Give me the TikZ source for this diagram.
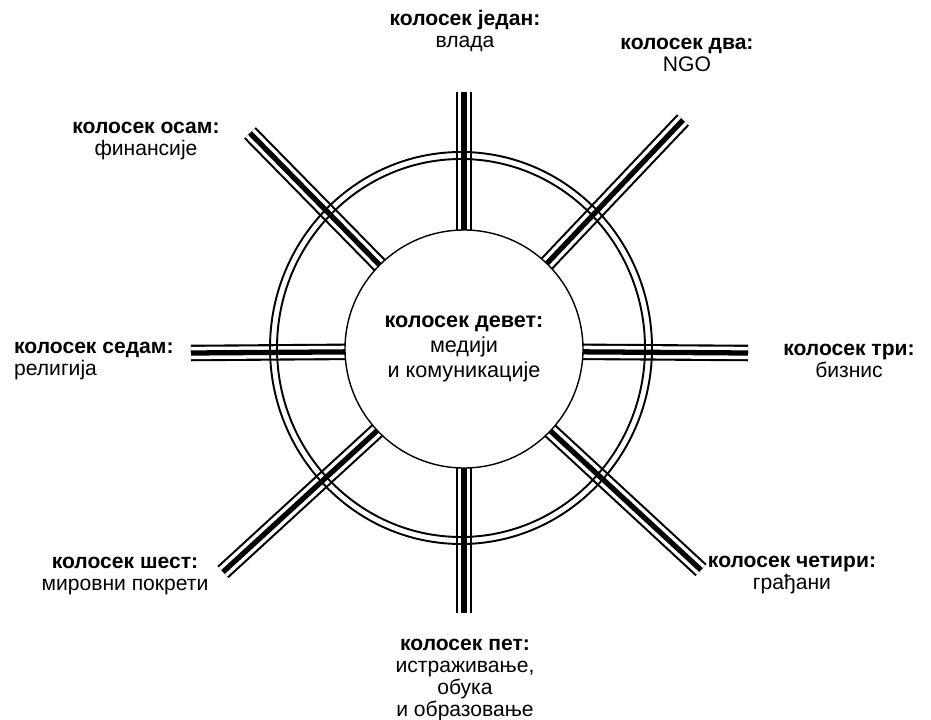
\documentclass[tikz,border=0pt]{standalone}
\usepackage{fontspec}
\setmainfont{Liberation Sans}
\begin{document}
\begin{tikzpicture}[x=0.02cm,y=-0.02cm,
  track/.style={double, double distance=7pt, line width=1.2pt},
  rail/.style={line width=3pt},
  ring/.style={line width=1.1pt},
  lbl/.style={align=center, font=\fontsize{12}{12.4}\selectfont}]
\useasboundingbox (0,0) rectangle (931,720);
\coordinate (c) at (464,351);
% spoke ends
\coordinate (e1) at (464,92);
\coordinate (e2) at (683,120);
\coordinate (e3) at (748,353);
\coordinate (e4) at (701,570);
\coordinate (e5) at (464,613);
\coordinate (e6) at (223,572);
\coordinate (e7) at (191,353);
\coordinate (e8) at (250,133);
\foreach \e in {e1,e2,e3,e4,e5,e6,e7,e8} {
  \draw[track] (c) -- (\e);
  \draw[rail] (c) -- (\e);
}
\draw[ring] (461,348) ellipse [x radius=191, y radius=196];
\draw[ring] (461,348) ellipse [x radius=184, y radius=189];
\node[circle, draw, line width=0.8pt, fill=white, minimum size=238*0.02cm,
  align=center, font=\fontsize{12.3}{14}\selectfont] (hub) at (464,349)
  {\textbf{колосек девет:}\\медији\\и комуникације};
% labels
\node[lbl] (n1) at (465,31) {\textbf{колосек један:}\\влада};
\node[lbl] (n2) at (687,55) {\textbf{колосек два:}\\NGO};
\node[lbl] (n3) at (849,361) {\textbf{колосек три:}\\бизнис};
\node[lbl] (n4) at (792,575) {\textbf{колосек четири:}\\грађани};
\node[lbl] (n5) at (465,680) {\textbf{колосек пет:}\\истраживање,\\обука\\и образовање};
\node[lbl] (n6) at (125,576) {\textbf{колосек шест:}\\мировни покрети};
\node[lbl, align=left, anchor=west] (n7) at (8,361) {\textbf{колосек седам:}\\религија};
\node[lbl] (n8) at (146,141) {\textbf{колосек осам:}\\финансије};
\end{tikzpicture}
\end{document}
